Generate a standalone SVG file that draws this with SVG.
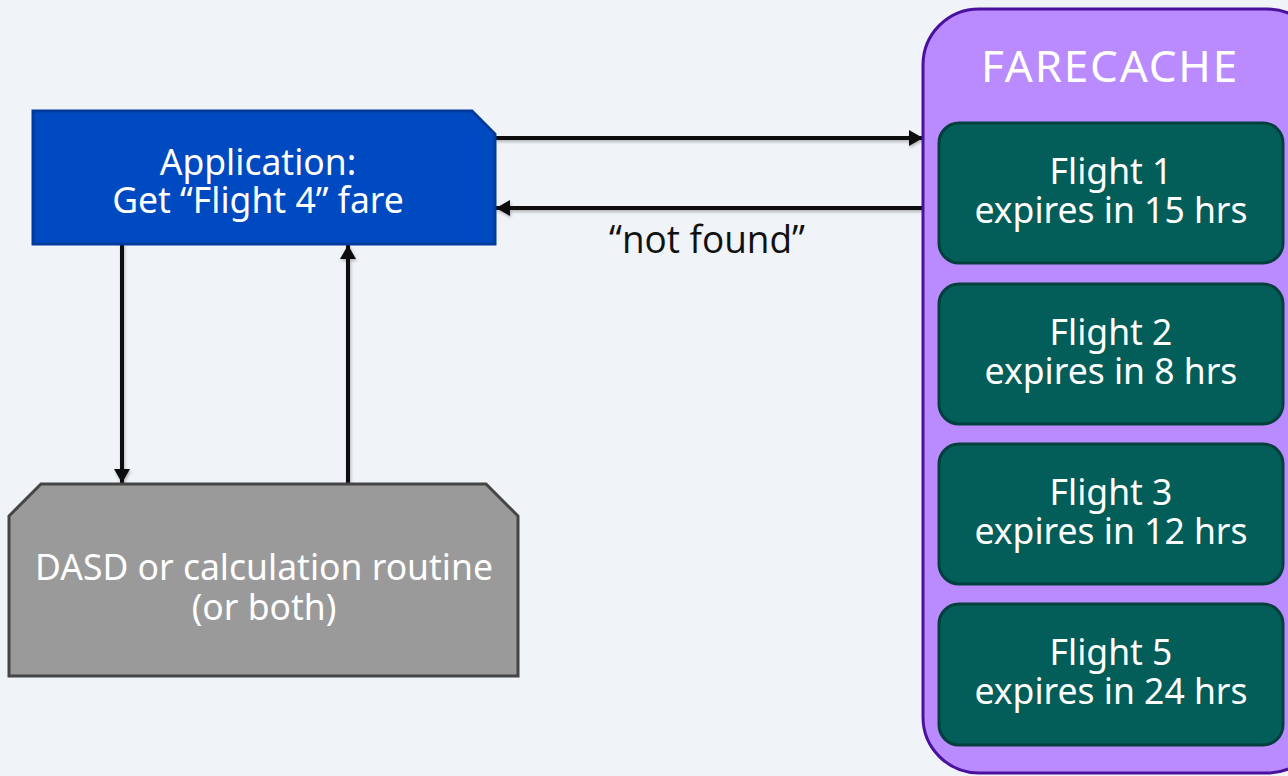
<svg xmlns="http://www.w3.org/2000/svg" width="1288" height="776" viewBox="0 0 1288 776">
  <defs>
    <marker id="arrow" viewBox="0 0 14 16" refX="14" refY="8" markerWidth="14" markerHeight="16" markerUnits="userSpaceOnUse" orient="auto">
      <path d="M0,0 L14,8 L0,16 z" fill="#111111"/>
    </marker>
    <filter id="soft" x="-10%" y="-50%" width="120%" height="200%">
      <feDropShadow dx="1" dy="2" stdDeviation="1.5" flood-color="#000000" flood-opacity="0.25"/>
    </filter>
  </defs>
  <style>
    .lbl { font-family: "Noto Sans", "Open Sans", sans-serif; font-size: 35.5px; fill: #ffffff; text-anchor: middle; }
    .flight rect { fill: #035e5a; stroke: #03403d; stroke-width: 3; }
    .conn { stroke: #111111; stroke-width: 4; fill: none; marker-end: url(#arrow); }
    .note { font-family: "Open Sans", "Liberation Sans", sans-serif; font-size: 38px; fill: #111111; text-anchor: middle; }
  </style>

  <rect width="1288" height="776" fill="#f0f3f7"/>

  <!-- Connectors -->
  <g id="connectors" filter="url(#soft)">
    <line class="conn" x1="495" y1="138" x2="923" y2="138"/>
    <line class="conn" x1="923" y1="208" x2="496" y2="208"/>
    <line class="conn" x1="122" y1="244" x2="122" y2="483"/>
    <line class="conn" x1="348" y1="484" x2="348" y2="245"/>
  </g>
  <text class="note" x="707" y="253" textLength="196" lengthAdjust="spacingAndGlyphs">“not found”</text>

  <!-- Application -->
  <g id="application">
    <path d="M33,111 L472,111 L495,134 L495,244 L33,244 Z" fill="#004ac1" stroke="#003a9c" stroke-width="3"/>
    <text class="lbl" x="258" y="175">Application:</text>
    <text class="lbl" x="258" y="213">Get “Flight 4” fare</text>
  </g>

  <!-- Backing store -->
  <g id="dasd">
    <path d="M41,484 L486,484 L518,516 L518,676 L9,676 L9,516 Z" fill="#9a9a9a" stroke="#454545" stroke-width="3"/>
    <text class="lbl" x="264" y="580">DASD or calculation routine</text>
    <text class="lbl" x="264" y="620">(or both)</text>
  </g>

  <!-- Cache container -->
  <g id="farecache">
    <rect x="923" y="9" width="400" height="764" rx="56" ry="56" fill="#b98bff" stroke="#4a109e" stroke-width="3"/>
    <text x="1110" y="82" font-family="Noto Sans, Open Sans, sans-serif" font-size="44" fill="#ffffff" text-anchor="middle" letter-spacing="1.8">FARECACHE</text>
  </g>

  <g id="flight1" class="flight">
    <rect x="939" y="123" width="344" height="140" rx="20" ry="20"/>
    <text class="lbl" x="1111" y="184">Flight 1</text>
    <text class="lbl" x="1111" y="223">expires in 15 hrs</text>
  </g>
  <g id="flight2" class="flight">
    <rect x="939" y="284" width="344" height="140" rx="20" ry="20"/>
    <text class="lbl" x="1111" y="345">Flight 2</text>
    <text class="lbl" x="1111" y="384">expires in 8 hrs</text>
  </g>
  <g id="flight3" class="flight">
    <rect x="939" y="444" width="344" height="140" rx="20" ry="20"/>
    <text class="lbl" x="1111" y="505">Flight 3</text>
    <text class="lbl" x="1111" y="544">expires in 12 hrs</text>
  </g>
  <g id="flight5" class="flight">
    <rect x="939" y="604" width="344" height="141" rx="20" ry="20"/>
    <text class="lbl" x="1111" y="665">Flight 5</text>
    <text class="lbl" x="1111" y="704">expires in 24 hrs</text>
  </g>
</svg>
